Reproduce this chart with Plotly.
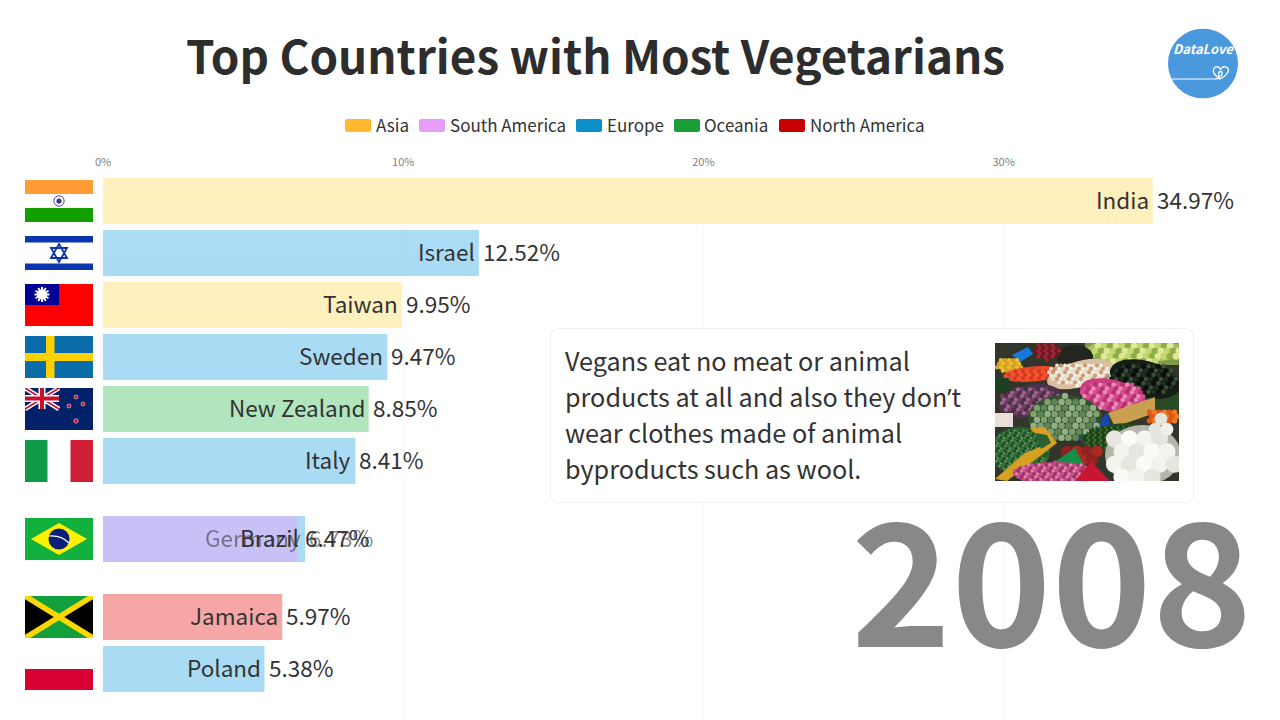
import base64
import plotly.graph_objects as go

FONT = "Noto Sans CJK SC"

# ---- data ----
countries = ["India", "Israel", "Taiwan", "Sweden", "New Zealand", "Italy", "Germany", "Brazil", "Jamaica", "Poland"]
values = [34.97, 12.52, 9.95, 9.47, 8.85, 8.41, 6.73, 6.47, 5.97, 5.38]
ranks = [1, 2, 3, 4, 5, 6, 7.5, 7.5, 9, 10]
continents = ["Asia", "Europe", "Asia", "Europe", "Oceania", "Europe", "Europe", "South America", "North America", "Europe"]
legend_names = ["Asia", "South America", "Europe", "Oceania", "North America"]
legend_colors = ["#FFB92E", "#E89DFA", "#0A8FC9", "#1A9E38", "#C70000"]
bar_colors = ["#FFD445", "#FF90FE", "#0C9EE2", "#1DB545", "#E80000"]
draw_order = ["Asia", "Europe", "Oceania", "North America", "South America"]
x_ticks = [0, 10, 20, 30]
x_tick_labels = ["0%", "10%", "20%", "30%"]
year = "2008"
title = "Top Countries with Most Vegetarians"
APOS = "<span style=\"font-family:'Open Sans'\">’</span>"
note_lines = ["Vegans eat no meat or animal", f"products at all and also they don{APOS}t",
              "wear clothes made of animal", "byproducts such as wool."]

W, H = 1280, 720
px = lambda x: x / W
py = lambda y: 1 - y / H
PER_RANK = 52.0
PER_UNIT = 30.02
bar_color_of = dict(zip(legend_names, bar_colors))


def uri(svg):
    return "data:image/svg+xml;base64," + base64.b64encode(svg.encode()).decode()


def svg_wrap(w, h, body):
    return f'<svg xmlns="http://www.w3.org/2000/svg" width="{w*3}" height="{h*3}" viewBox="0 0 {w} {h}">{body}</svg>'


# ---- flags (68 x 42) ----
def star(cx, cy, r, fill):
    return f'<circle cx="{cx}" cy="{cy}" r="{r}" fill="{fill}" stroke="#fff" stroke-width="0.5"/>'


flags = {
    "India": '<rect width="68" height="42" fill="#fff"/><rect width="68" height="14" fill="#FF9C33"/>'
             '<rect y="28" width="68" height="14" fill="#12A000"/>'
             '<circle cx="34" cy="21" r="5.2" fill="#fff" stroke="#3A3A90" stroke-width="0.9"/><circle cx="34" cy="21" r="2.6" fill="#3A3A90"/>',
    "Israel": '<rect width="68" height="42" fill="#fff"/><rect y="4" width="68" height="6.5" fill="#0A35B0"/>'
              '<rect y="31.5" width="68" height="6.5" fill="#0A35B0"/>'
              '<path d="M34 12 L42 26 L26 26 Z M34 30 L42 16 L26 16 Z" fill="none" stroke="#0A35B0" stroke-width="1.8"/>',
    "Taiwan": '<rect width="68" height="42" fill="#FE0000"/><rect width="34" height="21" fill="#000095"/>'
              + "".join(f'<rect x="16" y="3" width="2" height="15" fill="#fff" transform="rotate({a} 17 10.5)"/>' for a in range(0, 180, 30))
              + '<circle cx="17" cy="10.5" r="5" fill="#fff"/>',
    "Sweden": '<rect width="68" height="42" fill="#0A6CA8"/><rect x="21" width="8.5" height="42" fill="#FDD000"/>'
              '<rect y="17" width="68" height="8" fill="#FDD000"/>',
    "New Zealand": '<rect width="68" height="42" fill="#012169"/>'
                   '<path d="M0 0 L34 21 M34 0 L0 21" stroke="#fff" stroke-width="4.5"/>'
                   '<path d="M0 0 L34 21 M34 0 L0 21" stroke="#C8102E" stroke-width="1.6"/>'
                   '<path d="M17 0 V21 M0 10.5 H34" stroke="#fff" stroke-width="7"/>'
                   '<path d="M17 0 V21 M0 10.5 H34" stroke="#C8102E" stroke-width="4"/>'
                   + star(51, 9, 2, "#C8102E") + star(44, 18, 2, "#C8102E") + star(58, 16, 2, "#C8102E") + star(51, 33, 2.2, "#C8102E"),
    "Italy": '<rect width="68" height="42" fill="#fff"/><rect width="22.5" height="42" fill="#0F9A48"/>'
             '<rect x="45.5" width="22.5" height="42" fill="#CE1F34"/>',
    "Brazil": '<rect width="68" height="42" fill="#12B03C"/><path d="M34 5 L62 21 L34 37 L6 21 Z" fill="#FFF200"/>'
              '<circle cx="34" cy="21" r="10.5" fill="#0A1F7A"/><path d="M24 18 Q36 17 44 25" stroke="#fff" stroke-width="1.2" fill="none"/>',
    "Jamaica": '<rect width="68" height="42" fill="#12A03C"/><path d="M0 0 L34 21 L0 42 Z M68 0 L34 21 L68 42 Z" fill="#000"/>'
               '<path d="M0 0 L68 42 M68 0 L0 42" stroke="#FCD800" stroke-width="5.5"/>',
    "Poland": '<rect width="68" height="42" fill="#fff"/><rect y="21" width="68" height="21" fill="#D80032"/>',
}


# ---- photo stand-in, 184 x 138 ----
def dots(cx, cy, rx, ry, step, r, cols):
    out = []
    row = 0
    y = cy - ry
    while y <= cy + ry:
        x = cx - rx + (step / 2 if row % 2 else 0)
        i = row
        while x <= cx + rx:
            if ((x - cx) / rx) ** 2 + ((y - cy) / ry) ** 2 <= 1:
                out.append(f'<circle cx="{x:.1f}" cy="{y:.1f}" r="{r}" fill="{cols[i % len(cols)]}"/>')
            x += step
            i += 1
        y += step * 0.85
        row += 1
    return "".join(out)


def blob(cx, cy, rx, ry, fill, rot=0):
    return f'<ellipse cx="{cx}" cy="{cy}" rx="{rx}" ry="{ry}" fill="{fill}" transform="rotate({rot} {cx} {cy})"/>'


photo_body = (
    '<defs><filter id="b"><feGaussianBlur stdDeviation="0.6"/></filter><clipPath id="c"><rect width="184" height="138"/></clipPath></defs>'
    '<g filter="url(#b)" clip-path="url(#c)"><rect width="184" height="138" fill="#30342A"/>'
    + '<rect x="150" y="50" width="34" height="20" fill="#2A4A28"/>'
    + '<rect x="90" y="0" width="94" height="22" fill="#7E9A48"/>'
    + blob(140, 8, 50, 12, "#A8C060") + dots(140, 9, 46, 11, 6, 3.4, ["#C4D870", "#8FAE48", "#E2E89A"])
    + blob(80, 14, 18, 12, "#20281E") + dots(52, 8, 14, 9, 3.5, 1.8, ["#B02030", "#701828"])
    + '<path d="M17 12 L33 4 L38 11 L25 19 Z" fill="#1878D8"/>'
    + dots(14, 22, 14, 8, 4, 2.3, ["#E8C030", "#D8A020"])
    + blob(38, 31, 30, 7.5, "#E84A28", -5) + dots(38, 31, 28, 6, 4, 1.8, ["#F05A30", "#D83820"])
    + blob(85, 31, 34, 13, "#D8C0A0", -15) + dots(85, 31, 33, 12, 4, 2, ["#EEE4D0", "#C89C78", "#F2F0E8"])
    + blob(150, 36, 36, 18, "#121A12", 15) + dots(150, 36, 34, 17, 5, 2.2, ["#1E3020", "#0A100A", "#3E5038"])
    + '<rect x="0" y="35" width="14" height="14" fill="#1E4020"/>'
    + blob(35, 58, 32, 16, "#4A3048", -12) + dots(35, 58, 30, 15, 4, 2.1, ["#7A3C6A", "#503048", "#9A6A88"])
    + blob(118, 53, 34, 16, "#C83C80", 15) + dots(118, 53, 33, 15, 4.5, 2.4, ["#D84C90", "#B83070", "#E88CB4"])
    + '<path d="M113 70 L160 54 L160 70 L120 84 Z" fill="#C8A050"/>'
    + '<path d="M82 96 L113 70 L116 88 L92 103 Z" fill="#1848B0"/>'
    + blob(70, 75, 37, 23, "#33502F") + dots(70, 75, 35, 22, 7, 3.2, ["#80A070", "#5E8458", "#94B088"])
    + '<rect x="0" y="70" width="18" height="14" fill="#E8E0D8"/>'
    + dots(168, 74, 16, 9, 5, 2.8, ["#F07820", "#E05818"])
    + blob(120, 95, 34, 14, "#264C20", -8) + dots(120, 95, 32, 13, 3, 1.2, ["#3C7030", "#1C3C18"])
    + blob(25, 108, 30, 24, "#2C6030") + dots(25, 108, 28, 23, 3, 1.1, ["#3F8040", "#1E4824", "#6AA060"])
    + '<path d="M35 85 L50 84 L62 100 L12 138 L0 136 L30 110 L50 102 Z" fill="#D8A020"/>'
    + '<path d="M40 90 L52 92 L56 100 L46 106 Z" fill="#2C6030"/>'
    + dots(86, 110, 19, 10, 10, 6, ["#A82A24", "#902020"])
    + '<path d="M55 122 L80 105 L90 125 L75 138 Z" fill="#18904A"/>'
    + blob(60, 130, 42, 11, "#B84078") + dots(60, 130, 42, 11, 3.5, 1.7, ["#C8508A", "#A03068", "#D88AAE"])
    + '<path d="M80 138 L96 118 L115 138 Z" fill="#C81830"/>'
    + blob(148, 112, 38, 30, "#B4B6AC") + dots(148, 112, 36, 29, 15, 8.6, ["#F4F4EE", "#E6E6DE", "#FAFAF6"])
    + dots(166, 82, 12, 6, 12, 6.4, ["#F0F0EA", "#E4E4DC"])
    + '</g>'
)
photo = svg_wrap(184, 138, photo_body)
card = ('<svg xmlns="http://www.w3.org/2000/svg" width="1288" height="352" viewBox="0 0 644 176">'
        '<rect x="0.5" y="0.5" width="643" height="175" rx="8" ry="8" fill="#fff" stroke="#EFEFEF" stroke-width="1"/></svg>')
logo = ('<svg xmlns="http://www.w3.org/2000/svg" width="420" height="420" viewBox="0 0 70 70">'
        '<circle cx="35" cy="35" r="35" fill="#4A98DE"/>'
        '<path d="M4 50.5 H46 C49 50.5 50 50 51 50" fill="none" stroke="#fff" stroke-width="1.1"/>'
        '<path d="M52 50.5 C47 47 44 43 46 40 C48 37 51 38 52.5 41 C54 38 58 37 60 40 C62 43 58 47 52 50.5 C50 47 50 43 52.5 43 C55 43 54.5 47 52 48" '
        'fill="none" stroke="#fff" stroke-width="1.3"/></svg>')

# ---- traces ----
fig = go.Figure()
for cont in draw_order:
    idx = [i for i, c in enumerate(continents) if c == cont]
    fig.add_trace(go.Bar(
        x=[values[i] for i in idx], y=[ranks[i] for i in idx], orientation="h", width=0.885,
        marker=dict(color=bar_color_of[cont], line=dict(width=0)), opacity=0.35,
        name=cont, showlegend=False, hoverinfo="skip",
    ))

annotations = []
images = []
for name, v, r in zip(countries, values, ranks):
    faded = name == "Germany"
    shift = 6 if name == "Brazil" else 0
    common = dict(xref="x", yref="y", x=v, y=r, showarrow=False, yanchor="middle", yshift=2,
                  font=dict(family=FONT, size=22.5, color="#333333"), opacity=0.55 if faded else 1)
    annotations.append(dict(text=name, xanchor="right", xshift=-2 + shift, **common))
    annotations.append(dict(text=f"{v:.2f}%", xanchor="left", xshift=2 + (4 if name == "Brazil" else 0), **common))
    if name in flags:
        images.append(dict(source=uri(svg_wrap(68, 42, flags[name])), xref="paper", yref="y",
                           x=px(25), y=r, sizex=68 / W, sizey=42 / PER_RANK, xanchor="left", yanchor="middle",
                           sizing="stretch", layer="above"))

images.append(dict(source=uri(card), xref="paper", yref="paper", x=px(550), y=py(328), sizex=644 / W, sizey=175 / H,
                   xanchor="left", yanchor="top", sizing="stretch", layer="above"))
images.append(dict(source=uri(photo), xref="paper", yref="paper", x=px(995), y=py(343), sizex=184 / W, sizey=138 / H,
                   xanchor="left", yanchor="top", sizing="stretch", layer="above"))
images.append(dict(source=uri(logo), xref="paper", yref="paper", x=px(1168), y=py(28.5), sizex=70 / W, sizey=70 / H,
                   xanchor="left", yanchor="top", sizing="stretch", layer="above"))


def paper_text(text, x, y, size, color="#333333", anchor="left", bold=False, italic=False):
    s = f"<b>{text}</b>" if bold else text
    s = f"<i>{s}</i>" if italic else s
    return dict(text=s, xref="paper", yref="paper", x=px(x - 2 if anchor == "left" else x), y=py(y), xanchor=anchor,
                yanchor="middle", showarrow=False, font=dict(family=FONT, size=size, color=color))


annotations.append(paper_text(title, 595.5, 54.5, 45.8, "#2D2D2D", "center", bold=True))
annotations.append(paper_text("DataLove", 1203, 49, 13, "#FFFFFF", "center", bold=True, italic=True))
annotations.append(paper_text(year, 1051.5, 573, 170, "#888888", "center", bold=True))
for line, y in zip(note_lines, [359.5, 395.5, 431.5, 467.5]):
    annotations.append(paper_text(line, 565, y, 25.2, "#333333"))

# legend
shapes = []
swatch_x = [345, 419, 576, 674, 779]
text_x = [376, 450, 607, 704, 810]
for n, c, sx, tx in zip(legend_names, legend_colors, swatch_x, text_x):
    x0, x1, y0, y1, rad = px(sx), px(sx + 26), py(119), py(132), 2
    rx, ry = rad / W, rad / H
    shapes.append(dict(type="path", xref="paper", yref="paper", fillcolor=c, line=dict(width=0), layer="above",
                       path=f"M{x0+rx},{y0} L{x1-rx},{y0} Q{x1},{y0} {x1},{y0-ry} L{x1},{y1+ry} Q{x1},{y1} {x1-rx},{y1} "
                            f"L{x0+rx},{y1} Q{x0},{y1} {x0},{y1+ry} L{x0},{y0-ry} Q{x0},{y0} {x0+rx},{y0} Z"))
    annotations.append(paper_text(n, tx, 124.5, 17, "#333333"))

fig.update_layout(
    width=W, height=H, margin=dict(l=0, r=0, t=0, b=0, pad=0, autoexpand=False),
    paper_bgcolor="white", plot_bgcolor="white", barmode="overlay",
    font=dict(family=FONT), showlegend=False,
    xaxis=dict(domain=[px(103), 1], range=[0, (W - 103) / PER_UNIT], side="top", anchor="y", automargin=False,
               tickmode="array", tickvals=x_ticks, ticktext=x_tick_labels,
               tickfont=dict(family=FONT, size=11, color="#808080"),
               showgrid=True, gridcolor="#FAFAFA", gridwidth=1, zeroline=False, showline=False,
               ticks="outside", ticklen=2, tickcolor="rgba(0,0,0,0)"),
    yaxis=dict(domain=[0, 1 - 173 / H], range=[1 + (720 - 201) / PER_RANK, 1 + (173 - 201) / PER_RANK],
               visible=False, showgrid=False, zeroline=False, automargin=False),
    annotations=annotations, images=images, shapes=shapes,
)

fig.write_html("out.html", config={"displayModeBar": False},
               post_script="document.body.style.margin='0';document.body.style.overflow='hidden';")
